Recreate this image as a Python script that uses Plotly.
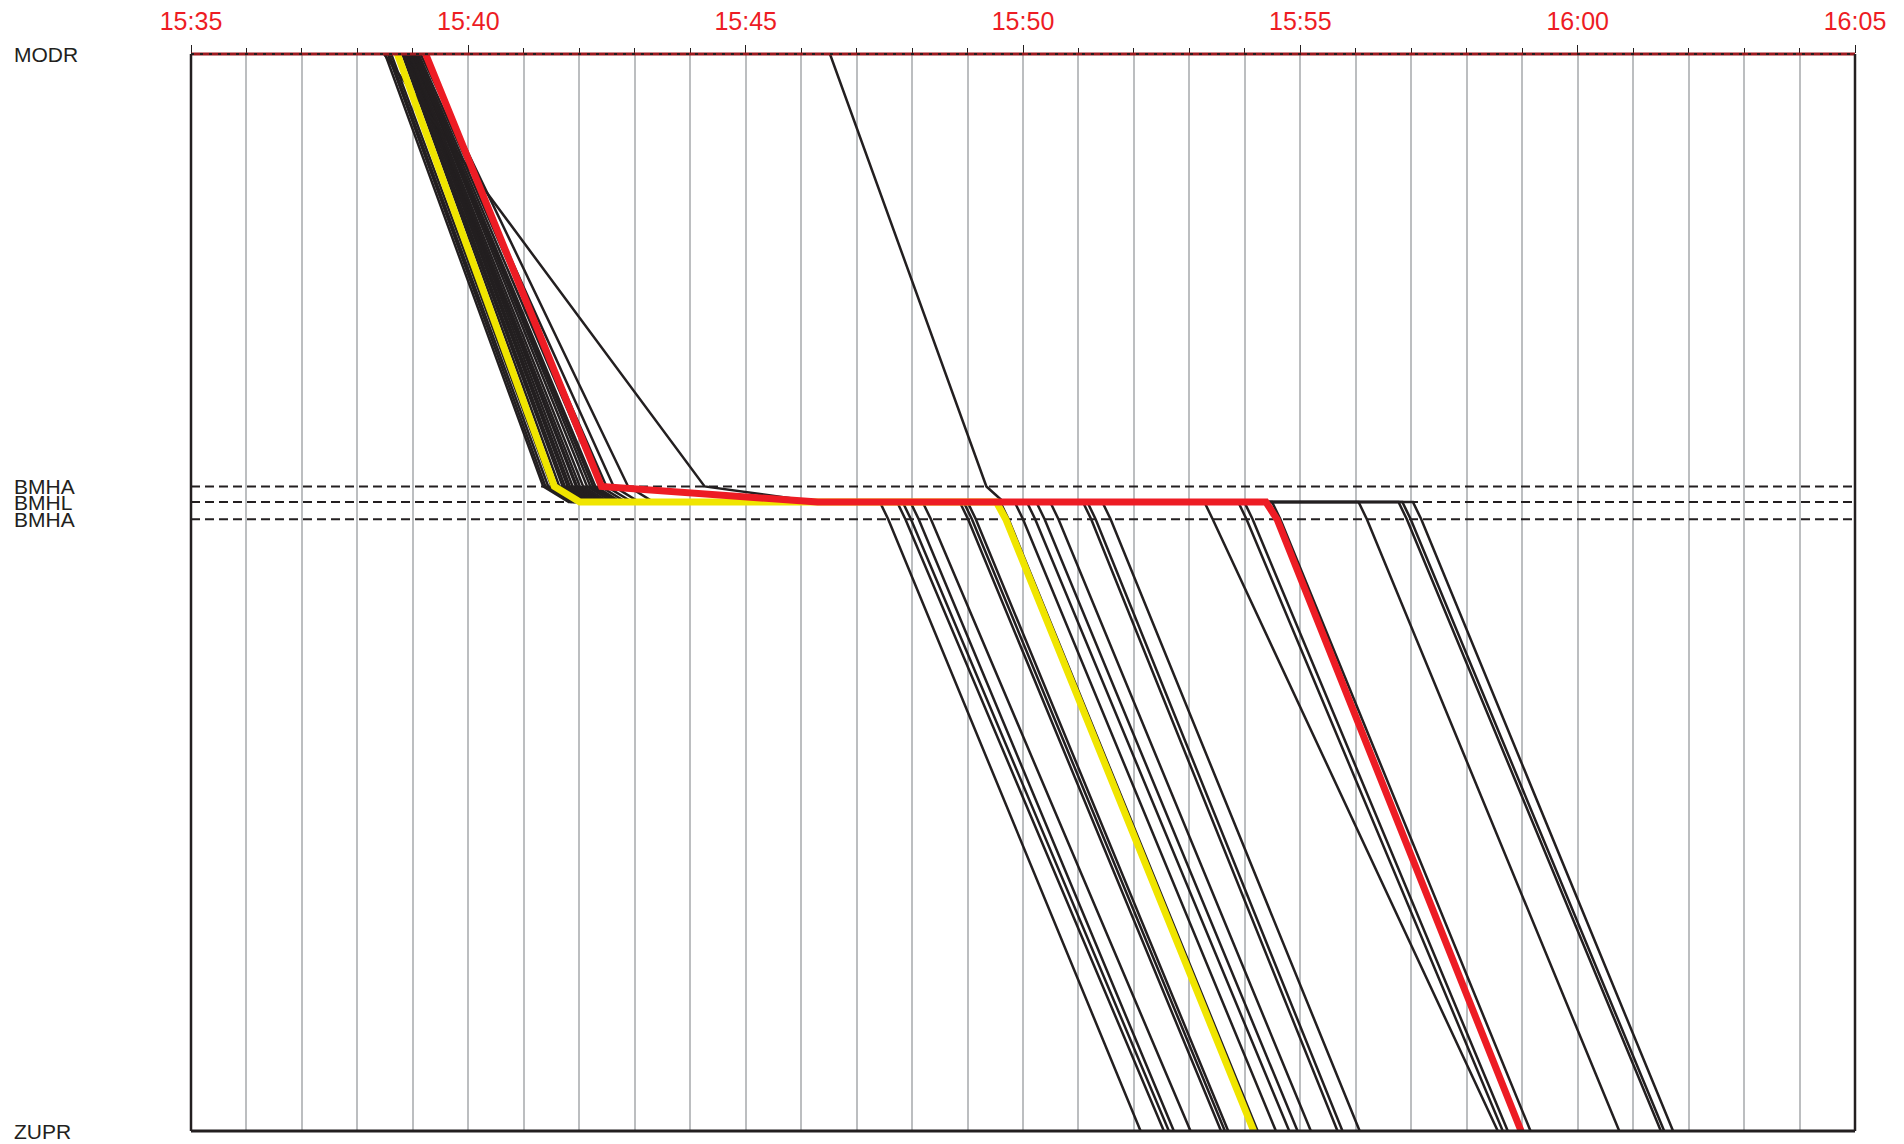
import pandas as pd
import plotly.graph_objects as go

# Line stations, top to bottom, with distance from MODR (km)
stations = ["MODR", "BMHA", "BMHL", "BMHA", "ZUPR"]
station_km = [0.0, 8.03, 8.32, 8.64, 20.0]

# Timetable: minutes after 15:35 at each timing point
trains = [f"T{i:02d}" for i in range(1, 27)]
t_modr = [3.50, 3.55, 3.57, 3.61, 3.81, 3.83, 3.85, 3.88, 3.90, 3.92, 3.92, 3.94, 3.94,
          3.48, 3.96, 3.99, 11.52, 4.01, 4.01, 4.03, 4.05, 4.07, 4.10, 4.14,
          3.72, 4.23]
t_bmha_n = [6.35, 6.39, 6.44, 6.50, 6.64, 6.70, 6.74, 6.79, 6.83, 6.88, 6.94, 6.96, 7.01,
            9.26, 7.07, 7.14, 14.34, 7.20, 7.25, 7.29, 7.38, 7.49, 7.62, 7.88,
            6.55, 7.40]
t_bmhl_arr = [6.81, 6.85, 6.90, 6.96, 7.10, 7.16, 7.20, 7.25, 7.29, 7.34, 7.40, 7.42, 7.47,
              11.30, 7.53, 7.60, 14.65, 7.66, 7.71, 7.75, 7.84, 7.95, 8.08, 8.34,
              7.01, 11.30]
t_bmhl_dep = [12.42, 12.73, 12.83, 12.97, 13.19, 13.86, 13.93, 14.00, 14.59, 14.85, 15.07, 15.24, 15.49,
              16.08, 16.16, 16.43, 18.27, 18.88, 18.99, 19.49, 21.05, 21.77, 21.84, 22.03,
              14.52, 19.38]
t_bmha_s = [12.57, 12.88, 12.98, 13.12, 13.34, 14.01, 14.08, 14.15, 14.74, 15.00, 15.22, 15.39, 15.64,
            16.23, 16.31, 16.58, 18.42, 19.03, 19.14, 19.64, 21.20, 21.92, 21.99, 22.18,
            14.69, 19.58]
t_zupr = [17.12, 17.54, 17.63, 17.72, 18.02, 18.57, 18.64, 18.70, 19.23, 19.56, 19.80, 19.95, 20.19,
          20.67, 20.76, 21.07, 23.56, 23.65, 23.74, 24.15, 25.75, 26.50, 26.56, 26.72,
          19.16, 23.98]

# Highlighted services
highlight = {"T25": "#f0e500", "T26": "#ed1c24"}

START = pd.Timestamp("2024-05-14 15:35")
END = pd.Timestamp("2024-05-14 16:05")
BLACK = "#231f20"
GRID = "#bcbec0"
FONT = "Liberation Sans, Arial, sans-serif"


def clock(minutes):
    return START + pd.Timedelta(minutes=minutes)


fig = go.Figure()

# Station tracks at the junction (dashed)
for name, km in zip(stations[1:4], station_km[1:4]):
    fig.add_trace(go.Scatter(
        x=[START, END], y=[km, km], mode="lines",
        line=dict(color=BLACK, width=2, dash="9px,5px"),
        hoverinfo="skip", showlegend=False))

# Train paths: ordinary services first, highlighted ones on top
order = [i for i, t in enumerate(trains) if t not in highlight] + \
        [trains.index(t) for t in highlight]
for i in order:
    times = [t_modr[i], t_bmha_n[i], t_bmhl_arr[i], t_bmhl_dep[i], t_bmha_s[i], t_zupr[i]]
    kms = [station_km[0], station_km[1], station_km[2], station_km[2], station_km[3], station_km[4]]
    colour = highlight.get(trains[i], BLACK)
    width = 7 if trains[i] in highlight else 2.5
    fig.add_trace(go.Scatter(
        x=[clock(m) for m in times], y=kms, mode="lines",
        line=dict(color=colour, width=width),
        name=trains[i], hoverinfo="x+name", showlegend=False))

shapes = [
    # MODR (terminal line at top of chart)
    dict(type="line", xref="x", yref="y domain", x0=START, x1=END, y0=1, y1=1,
         line=dict(color="#9e1b20", width=3), layer="above"),
    dict(type="line", xref="x", yref="y domain", x0=START, x1=END, y0=1, y1=1,
         line=dict(color=BLACK, width=2, dash="3px,6px"), layer="above"),
    # ZUPR (terminal line at bottom)
    dict(type="line", xref="x", yref="y domain", x0=START, x1=END, y0=0, y1=0,
         line=dict(color=BLACK, width=3), layer="above"),
    # frame sides
    dict(type="line", xref="paper", yref="paper", x0=0, x1=0, y0=0, y1=1,
         line=dict(color=BLACK, width=2.5), layer="above"),
    dict(type="line", xref="paper", yref="paper", x0=1, x1=1, y0=0, y1=1,
         line=dict(color=BLACK, width=2.5), layer="above"),
]

annotations = [
    dict(text=name, xref="paper", x=-0.1069, xanchor="left", yref="y", y=km,
         yanchor="middle", showarrow=False, borderpad=0,
         font=dict(family=FONT, size=21, color=BLACK))
    for name, km in zip(stations, station_km)
]

fig.update_layout(
    width=1904, height=1144,
    margin=dict(l=191, r=49, t=54, b=13, autoexpand=False),
    paper_bgcolor="white", plot_bgcolor="white",
    shapes=shapes, annotations=annotations,
    xaxis=dict(
        type="date", side="top", range=[START, END], automargin=False,
        tick0=START, dtick=5 * 60 * 1000, tickformat="%H:%M",
        ticks="outside", ticklen=8, tickwidth=1, tickcolor=BLACK,
        ticklabelstandoff=5,
        tickfont=dict(family=FONT, size=25, color="#ed1c24"),
        showgrid=True, gridcolor=GRID, gridwidth=1.5,
        showline=False, zeroline=False,
        minor=dict(dtick=60 * 1000, ticks="outside", ticklen=5, tickwidth=1,
                   tickcolor=BLACK, showgrid=True, gridcolor=GRID, gridwidth=1.5),
    ),
    yaxis=dict(
        range=[20, 0], showgrid=False, showticklabels=False, zeroline=False,
        ticks="", showline=False, automargin=False,
    ),
)

fig.write_html("out.html")
